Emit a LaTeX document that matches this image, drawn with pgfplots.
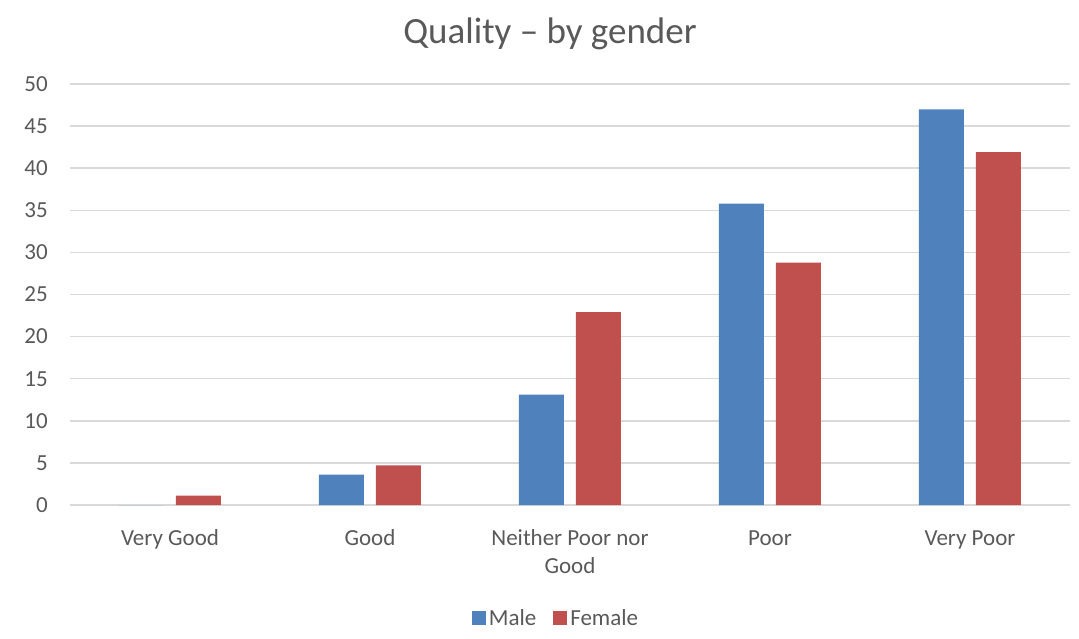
\documentclass[border=0pt]{standalone}
\usepackage{pgfplots}
\pgfplotsset{compat=1.18}
\usepackage{fontspec}
\setmainfont{Carlito}
\definecolor{male}{RGB}{79,129,189}
\definecolor{female}{RGB}{192,80,77}
\definecolor{txt}{RGB}{89,89,89}
\definecolor{gridc}{RGB}{217,217,217}
\begin{document}
\begin{tikzpicture}
\begin{axis}[
  at={(70pt,-505pt)}, anchor=south west,
  width=1000pt, height=421pt, scale only axis,
  xmin=-0.5, xmax=4.5, ymin=0, ymax=50,
  ytick={0,5,...,50},
  xtick=data,
  xticklabels={\strut Very Good,\strut Good,\strut Neither Poor nor\\Good,\strut Poor,\strut Very Poor},
  ybar=12pt, bar width=45pt,
  axis line style={draw=none},
  major tick length=0pt,
  xmajorgrids=false, ymajorgrids=true,
  grid style={draw=gridc, line width=1.5pt},
  /pgf/number format/assume math mode=true,
  tick label style={font=\fontsize{23}{28}\selectfont, text=txt},
  yticklabel style={inner sep=0pt, xshift=-22pt},
  xticklabel style={inner sep=0pt, anchor=north, yshift=-20.4pt, align=center},
  legend columns=-1,
  legend style={at={(0.4865,-0.268)}, anchor=center, draw=none,
    font=\fontsize{23}{28}\selectfont, text=txt,
    nodes={inner sep=3pt},
    /tikz/every even column/.append style={column sep=14pt}},
  legend image code/.code={\fill[#1] (0pt,-7pt) rectangle (14pt,7pt);},
  title={Quality -- by gender},
  title style={at={(0.48,1.083)}, anchor=base, inner sep=0pt,
    font=\fontsize{37}{42}\selectfont, text=txt},
]
\addplot[fill=male, draw=none] coordinates {(0,0) (1,3.6) (2,13.1) (3,35.8) (4,47.0)};
\addplot[fill=female, draw=none] coordinates {(0,1.1) (1,4.7) (2,22.9) (3,28.8) (4,41.9)};
\legend{Male,Female}
\end{axis}
\pgfresetboundingbox
\path (0pt,0pt) rectangle (1079pt,-638pt);
\end{tikzpicture}
\end{document}
